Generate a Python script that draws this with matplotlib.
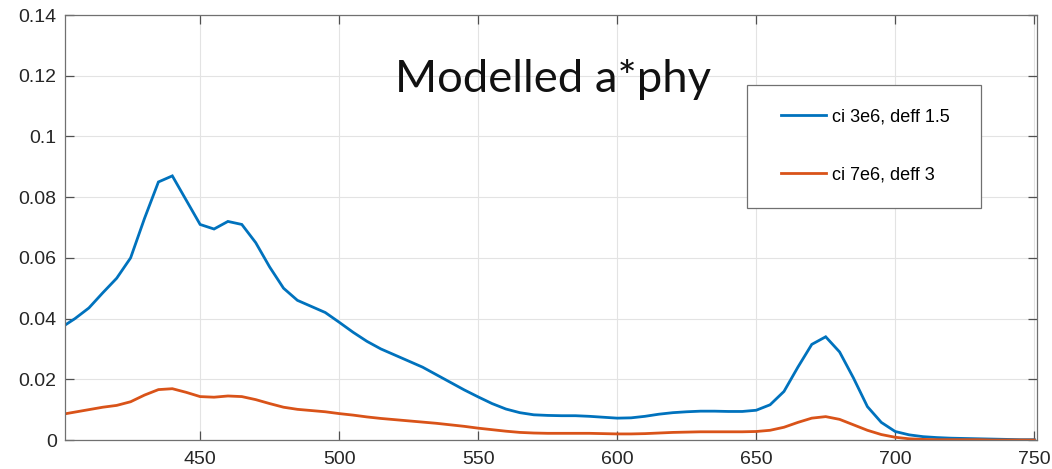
import numpy as np
import matplotlib
matplotlib.use("Agg")
import matplotlib.pyplot as plt
from matplotlib.patches import Rectangle

# wavelength grid (nm) and modelled specific absorption for the two cases
wavelength = np.arange(400, 755, 5)

aphy_ci3e6 = [
    0.0370, 0.0400, 0.0435, 0.0485, 0.0533, 0.0600, 0.0730, 0.0850, 0.0870, 0.0790,
    0.0710, 0.0695, 0.0720, 0.0710, 0.0650, 0.0570, 0.0500, 0.0460, 0.0440, 0.0420,
    0.0388, 0.0355, 0.0325, 0.0300, 0.0280, 0.0260, 0.0240, 0.0215, 0.0190, 0.0165,
    0.0142, 0.0120, 0.0102, 0.0090, 0.0083, 0.0081, 0.0080, 0.0080, 0.0078, 0.0075,
    0.0072, 0.0073, 0.0078, 0.0085, 0.0090, 0.0093, 0.0095, 0.0095, 0.0094, 0.0094,
    0.0098, 0.0116, 0.0160, 0.0240, 0.0315, 0.0340, 0.0290, 0.0204, 0.0110, 0.0058,
    0.0028, 0.0017, 0.0011, 0.0008, 0.0006, 0.0005, 0.0004, 0.0003, 0.0002, 0.0001,
    0.0001,
]

aphy_ci7e6 = [
    0.0084, 0.0092, 0.0100, 0.0108, 0.0114, 0.0126, 0.0148, 0.0166, 0.0169, 0.0157,
    0.0143, 0.0141, 0.0145, 0.0143, 0.0133, 0.0120, 0.0108, 0.0101, 0.0097, 0.0093,
    0.0087, 0.0082, 0.0076, 0.0071, 0.0067, 0.0063, 0.0059, 0.0055, 0.0050, 0.0045,
    0.0039, 0.0034, 0.0029, 0.0025, 0.0023, 0.0022, 0.0022, 0.0022, 0.0022, 0.0021,
    0.0020, 0.0020, 0.0021, 0.0023, 0.0025, 0.0026, 0.0027, 0.0027, 0.0027, 0.0027,
    0.0028, 0.0032, 0.0042, 0.0058, 0.0072, 0.0077, 0.0068, 0.0050, 0.0032, 0.0018,
    0.0009, 0.0004, 0.0002, 0.0001, 0.0001, 0.0001, 0.0001, 0.0000, 0.0000, 0.0000,
    0.0000,
]

labels = ["ci 3e6, deff 1.5", "ci 7e6, deff 3"]
line_colors = ["#0072BD", "#D95319"]
xticks = [450, 500, 550, 600, 650, 700, 750]
yticks = [0, 0.02, 0.04, 0.06, 0.08, 0.1, 0.12, 0.14]
ytick_labels = ["0", "0.02", "0.04", "0.06", "0.08", "0.1", "0.12", "0.14"]

plt.rcParams["font.family"] = ["Liberation Sans", "DejaVu Sans"]

fig = plt.figure(figsize=(10.52, 4.69), dpi=100)
ax = fig.add_axes([65 / 1052, 29 / 469, 972 / 1052, 425 / 469])

for y, lab, c in zip([aphy_ci3e6, aphy_ci7e6], labels, line_colors):
    ax.plot(wavelength, y, color=c, lw=2.0, label=lab, solid_joinstyle="miter")

ax.set_xlim(401.4, 751)
ax.set_ylim(0, 0.14)
ax.set_xticks(xticks)
ax.set_yticks(yticks)
ax.set_yticklabels(ytick_labels)

# matlab-ish axes: inward ticks on all four sides, faint grid
ax.grid(True, color="#e3e3e3", lw=0.8)
ax.set_axisbelow(True)
for s in ax.spines.values():
    s.set_color("#707070")
    s.set_linewidth(0.9)
ax.tick_params(direction="in", length=6.5, width=0.9, color="#505050",
               top=True, right=True, labelsize=14, labelcolor="#262626")
ax.tick_params(axis="x", pad=8)
ax.tick_params(axis="y", pad=6)

# legend text/handles without frame, box drawn separately (wider side padding)
leg = ax.legend(loc="center left", bbox_to_anchor=(781 / 1052, (469 - 146) / 469),
                bbox_transform=fig.transFigure, frameon=False, fontsize=13,
                handlelength=2.5, handletextpad=0.3, labelspacing=2.3,
                borderpad=0, borderaxespad=0)
leg.set_zorder(5)
box = Rectangle((747 / 1052, (469 - 208) / 469), 234 / 1052, 123 / 469,
                transform=fig.transFigure, facecolor="white",
                edgecolor="#707070", lw=0.9, zorder=4, clip_on=False)
ax.add_patch(box)

fig.text(553 / 1052, (469 - 92) / 469, "Modelled a*phy", ha="center",
         va="baseline", fontsize=32.7, family=["Lato", "DejaVu Sans"], color="#111111")

fig.savefig("out.png", dpi=100)
